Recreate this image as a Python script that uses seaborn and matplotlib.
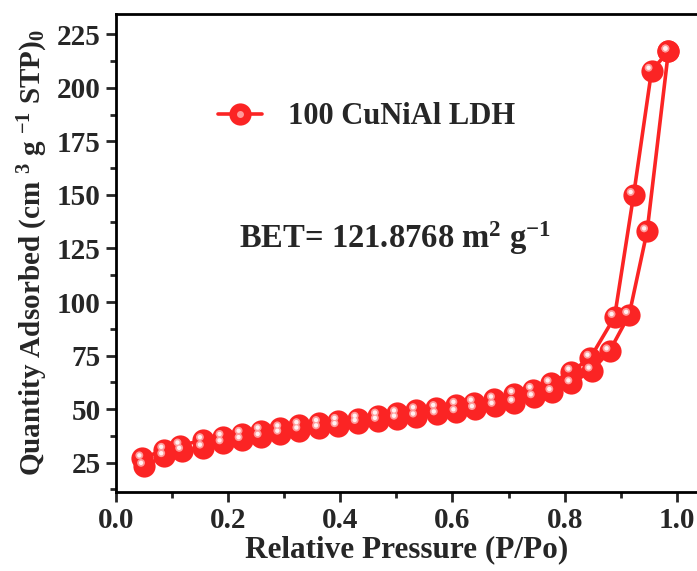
import numpy as np
import matplotlib
matplotlib.use("Agg")
import matplotlib.pyplot as plt
import matplotlib.transforms as mtransforms
from matplotlib.lines import Line2D
from matplotlib.legend_handler import HandlerTuple
import seaborn as sns

# adsorption branch (lower)
p_ads = [0.050, 0.086, 0.118, 0.155, 0.190, 0.224, 0.258, 0.293, 0.327, 0.362,
         0.395, 0.431, 0.467, 0.501, 0.535, 0.572, 0.607, 0.640, 0.675, 0.710,
         0.745, 0.778, 0.812, 0.848, 0.880, 0.915, 0.947, 0.985]
q_ads = [23.5, 28, 30.5, 32, 34, 35.5, 37, 38.5, 40, 41,
         42, 43.5, 44.5, 45.5, 46.5, 47.5, 48.5, 50, 51.5, 53,
         55.5, 58, 62, 68, 77, 94, 133, 217]

# desorption branch (upper)
p_des = [0.985, 0.955, 0.923, 0.889, 0.846, 0.812, 0.775, 0.743, 0.710, 0.674,
         0.638, 0.607, 0.571, 0.535, 0.501, 0.467, 0.431, 0.395, 0.362, 0.327,
         0.293, 0.258, 0.224, 0.190, 0.155, 0.115, 0.086, 0.047]
q_des = [217, 208, 150, 93, 74, 67.5, 62, 59, 57, 54.5,
         53, 52, 50.5, 49.5, 48, 47, 45.5, 44.5, 43.5, 42.5,
         41, 40, 38.5, 37, 35.5, 33, 31, 27]

label = "100 CuNiAl LDH"
red = "#fb2424"
hl1 = "#ff9a9a"
hl2 = "#fff2f2"

sns.set_style("ticks")
plt.rcParams['font.family'] = ['Liberation Serif', 'DejaVu Serif']
plt.rcParams['font.weight'] = 'bold'
plt.rcParams['mathtext.fontset'] = 'custom'
plt.rcParams['mathtext.rm'] = 'Liberation Serif:bold'
plt.rcParams['mathtext.bf'] = 'Liberation Serif:bold'
plt.rcParams['mathtext.it'] = 'Liberation Serif:bold'

fig = plt.figure(figsize=(6.97, 5.71), dpi=100)
ax = fig.add_axes([0.1664, 0.1384, 0.8336, 0.8371])

for p, q in [(p_ads, q_ads), (p_des, q_des)]:
    sns.lineplot(x=p, y=q, sort=False, ax=ax, color=red, lw=2.6,
                 marker='o', markersize=16, markeredgewidth=0, mfc=red, zorder=3)
    off = mtransforms.offset_copy(ax.transData, fig=fig, x=-3, y=3, units='dots')
    ax.scatter(p, q, s=32, color=hl1, edgecolors='none', transform=off, zorder=4)
    ax.scatter(p, q, s=10, color=hl2, edgecolors='none', transform=off, zorder=5)

ax.set_xlim(0, 1.036)
ax.set_ylim(11.3, 234.5)
ax.set_xticks(np.arange(0, 1.01, 0.2))
ax.set_xticks(np.arange(0.1, 1.01, 0.2), minor=True)
ax.set_yticks(np.arange(25, 226, 25))
ax.set_yticks(np.arange(12.5, 234, 12.5), minor=True)
ax.xaxis.set_major_formatter(matplotlib.ticker.FormatStrFormatter('%.1f'))

for s in ['left', 'bottom', 'top']:
    ax.spines[s].set_linewidth(2)
    ax.spines[s].set_color('black')
ax.spines['right'].set_visible(False)
ax.tick_params(which='major', direction='out', length=7, width=2, labelsize=21,
               pad=4, top=False, right=False)
ax.tick_params(which='minor', direction='out', length=4, width=2, top=False, right=False)
for t in ax.get_xticklabels() + ax.get_yticklabels():
    t.set_fontweight('bold')

ax.set_xlabel("Relative Pressure (P/Po)", fontsize=22.5, fontweight='bold', labelpad=1)
ax.set_ylabel(r"Quantity Adsorbed (cm $^{3}$ g $^{-1}$ STP)$_{0}$", fontsize=21,
              fontweight='bold', labelpad=5)

h_line = Line2D([], [], color=red, lw=2.6, marker='o', markersize=16,
                markeredgewidth=0, mfc=red)
h_hl = Line2D([], [], ls='none', marker='o', markersize=5, mfc=hl1, markeredgewidth=0)
ax.legend([(h_line, h_hl)], [label], handler_map={tuple: HandlerTuple(ndivide=1, pad=0)},
          loc='center left', bbox_to_anchor=(0.1756, 0.7845), frameon=False,
          borderpad=0, borderaxespad=0,
          handlelength=1.45, handletextpad=0.85, prop={'size': 22, 'weight': 'bold'})

ax.text(0.48, 0.531, r"BET= 121.8768 m$^{2}$ g$^{-1}$", transform=ax.transAxes,
        ha='center', va='center', fontsize=23.5, fontweight='bold')

fig.savefig("out.png", dpi=100)
